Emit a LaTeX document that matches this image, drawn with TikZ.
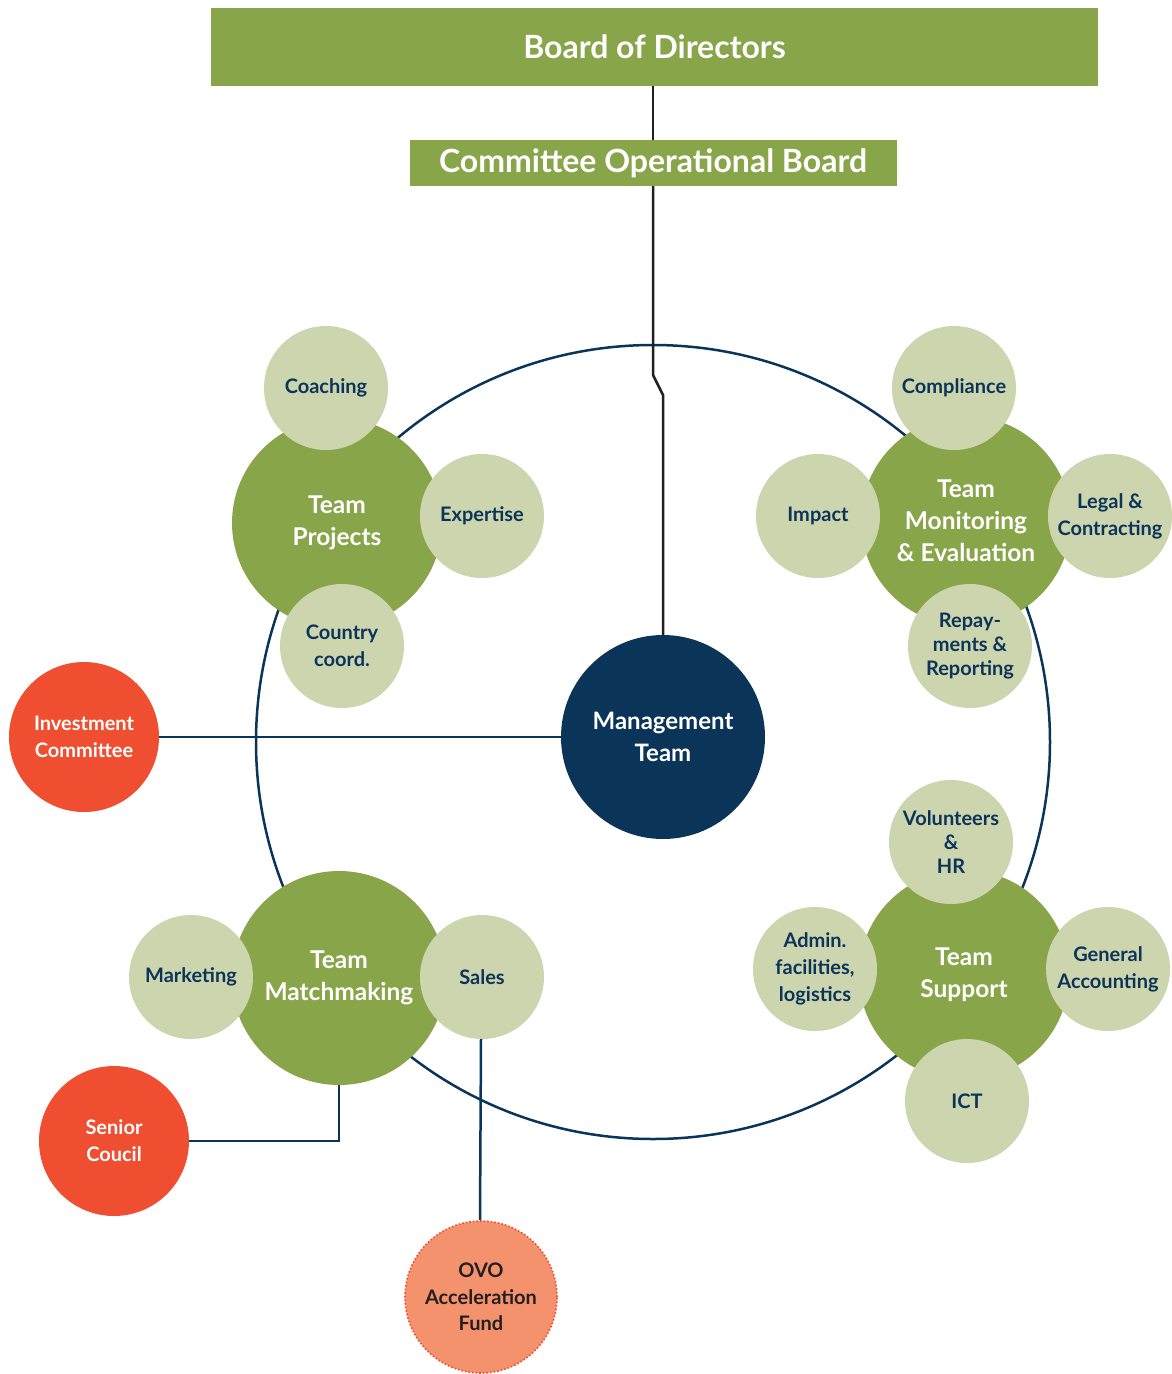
\documentclass[tikz,border=0pt]{standalone}
\usepackage{fontspec}
\setmainfont{Lato}[BoldFont={Lato Bold}]
\definecolor{olive}{HTML}{88A54A}
\definecolor{sage}{HTML}{CDD5AE}
\definecolor{navy}{HTML}{0B3459}
\definecolor{tomato}{HTML}{F04E30}
\definecolor{salmon}{HTML}{F4926E}
\definecolor{ink}{HTML}{231F20}
\tikzset{
    boardbox/.style={fill=olive, text=white, font=\fontsize{32}{38}\selectfont\bfseries, inner sep=0},
    team/.style={circle, fill=olive, minimum size=210pt, inner sep=0, text=white, align=center,
        font=\fontsize{24.5}{32}\selectfont\bfseries},
    sat/.style={circle, fill=sage, minimum size=124pt, inner sep=0, text=navy, align=center,
        font=\fontsize{20}{27}\selectfont\bfseries},
    redcirc/.style={circle, fill=tomato, minimum size=150pt, inner sep=0, text=white, align=center,
        font=\fontsize{20}{27}\selectfont\bfseries},
    link/.style={draw=navy, line width=2.5pt}
}
\begin{document}
\begin{tikzpicture}[x=1pt, y=-1pt]
    \useasboundingbox (0,0) rectangle (1171,1374);
    % outer ring
    \draw [navy, line width=2.5pt] (653,742) circle (397);
    % boards
    \node (board) at (654.5,47) [boardbox, minimum width=887pt, minimum height=78pt] {Board of Directors};
    \node (cob) at (653,163) [boardbox, minimum width=487pt, minimum height=46pt] {Committee Operational Board};
    % management
    \node (mgmt) at (663,737) [circle, fill=navy, minimum size=204pt, inner sep=0, text=white, align=center,
        font=\fontsize{24}{32}\selectfont\bfseries] {Management\\Team};
    \coordinate (bendA) at (653,375);
    \coordinate (bendB) at (663,395);
    % red side bodies
    \node (invest) at (84,737) [redcirc] {Investment\\Committee};
    \node (senior) at (114,1141) [redcirc] {Senior\\Coucil};
    \node (ovo) at (481,1297) [circle, fill=salmon, draw=tomato, dotted, line width=1.6pt, minimum size=152pt,
        inner sep=0, text=ink, align=center, font=\fontsize{20}{26.5}\selectfont\bfseries] {OVO\\Acceleration\\Fund};
    % teams
    \node (proj) at (337,523) [team] {Team\\Projects};
    \node (mon) at (966,521) [team] {Team\\Monitoring\\\& Evaluation};
    \node (supp) at (964,975) [team] {Team\\Support};
    \node (match) at (339,978) [team, minimum size=214pt] {Team\\Matchmaking};
    % connectors
    \draw [ink, line width=2.5pt] (cob.north) -- (cob.north |- board.south);
    \draw [ink, line width=2.5pt] (cob.south) -- (bendA) -- (bendB) -- (mgmt.north);
    \draw [link] (invest.east) -- (mgmt.west);
    \draw [link] (senior.east) -| (match.south);
    % satellites
    \node (coach) at (326,388) [sat] {Coaching};
    \node (expert) at (482,516) [sat] {Expertise};
    \node (country) at (342,646) [sat] {Country\\coord.};
    \node (compl) at (954,388) [sat] {Compliance};
    \node (impact) at (818,516) [sat] {Impact};
    \node (legal) at (1110,516) [sat] {Legal \&\\Contracting};
    \node (repay) at (970,646) [sat, font=\fontsize{20}{24}\selectfont\bfseries] {Repay-\\ments \&\\Reporting};
    \node (volunt) at (951,842) [sat, font=\fontsize{20}{24}\selectfont\bfseries] {Volunteers\\\&\\HR};
    \node (admin) at (815,969) [sat, font=\fontsize{20}{27}\selectfont\bfseries] {Admin.\\facilities,\\logistics};
    \node (genacc) at (1108,969) [sat] {General\\Accounting};
    \node (ict) at (967,1101) [sat] {ICT};
    \node (market) at (191,977) [sat] {Marketing};
    \node (sales) at (482,977) [sat] {Sales};
    \draw [link] ([xshift=-1pt]sales.south) -- ([xshift=-1pt]ovo.north);
\end{tikzpicture}
\end{document}
